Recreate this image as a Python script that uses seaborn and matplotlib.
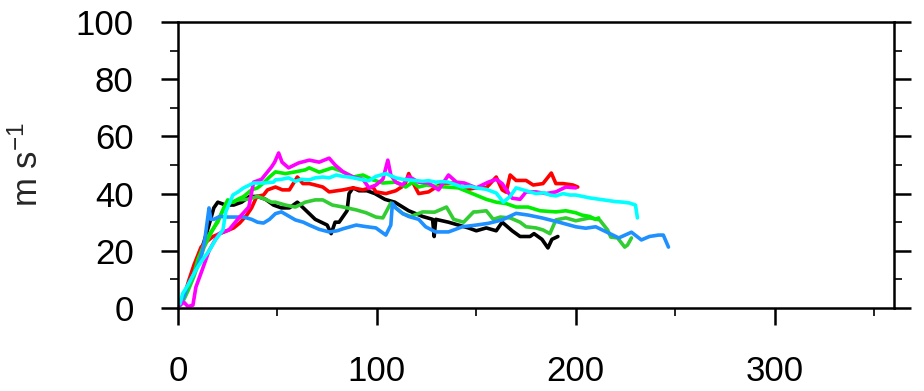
import numpy as np
import pandas as pd
import matplotlib
matplotlib.use("Agg")
import matplotlib.pyplot as plt
import seaborn as sns
from matplotlib.ticker import MultipleLocator

# ---------------- data ----------------
t_black = [1,4,7,10,13,16,18,20,24,28,32,36,40,44,48,52,56,60,63,66,69,72,75,77,79,81,83,85,86,88,91,95,99,104,109,116,123,128,128.8,129.6,136,141,146,150,155,160,163,168,172,177,179,183,186,188,191]
v_black = [2,6,11,17,23,30,35,37,36,36,37,39,39,38,36,35,35,37,35,33,31,30,29,26,30,30,32,34,40,42,41,41,40,38,37,34,32,31,25,31,30,29,28,27,28,27,30,27,25,25,26,24,21,24,25]

t_red = [1,3,5.5,8,11.6,14,17.6,21,24.6,28,31,34.6,37,39.6,43,45,49,52.5,56,60,62.8,66,69,72.8,76,80,83,88,93,98,99.5,104.5,109.5,114,116,118,121,126,133,140,144,150,155,160,163,165,167,170,175,178.6,183.5,187.7,190,193.6,198.6,201]
v_red = [1,4,9.8,15,21.3,23,25,26,27,28,29.7,32.5,35,39,39.5,41.3,42.3,41.3,41.3,45.8,43.5,43.5,43,42.3,40.6,41,41.3,42,41.3,42.3,40.6,40,41,43,47,44,40,40.6,43.7,43.7,41.3,42,42,45.8,41.3,40.5,46.5,44.6,44.6,43,43.5,47.2,43.5,43.5,43,42.3]

t_lime = [1,3,5,8,10,13,15,18,21,24,27,30,35,40,44,47,49,54,59,64,69,72.8,77.6,83,89.6,94.6,99.5,103,107,109.5,113,117,123,129,135,138.6,143.6,148.6,150,155,158.5,162,167,172,175,180,183.5,187,190,195,200,207,212,216,217.6,221,224.6,226,228]
v_lime = [1,3,6,11,15,21,24,28,32,36,37,37.8,38,39,38,37,37,36,35.3,37,37.8,37.8,36,35.3,34.3,33.3,31.8,31.5,36.7,35,33,32,33.6,33.5,35.3,31,30,33.6,33.6,34,31,31.8,31.5,30,28.4,28,27.3,26,30.8,31.5,30.5,31.5,30.8,27.3,24.8,24.5,21.3,22,24.5]

t_green = [1,3,5,8,10,13,15,18,20,23,25,28,30,33,37,40,43,46,49,54,59,64,66,71,77.6,83,88,93,98,103,109.5,114.5,118,121,125,130,135,141,148,155,160,165,170,176,182,190,195,200,203,207,210,211.5]
v_green = [1,4,7,12,17,22,25,28,30,35,37.8,37,38,39,41.3,42,43.7,45.8,47.6,47,47.6,48.3,49,47.5,49,47.6,45.8,46.5,44.8,43.7,44,42.3,44,42.3,43,42.5,42.3,42,40,38,37,36.5,35.3,35.3,34,33.6,34,33.3,32.5,32,31,31.5]

t_blue = [1,3,5,8,10,12,13.5,15.6,16.5,18,21,25,29,33,37,40,43,46,49,52,56,59,63,66,71,76,80,83,89.6,94,99.5,104.5,107,107.8,109.5,113,116,121,124.5,129.5,136,143,150,156,163,170,176,183,191.6,200,205,210,216.6,221.6,228,233,237,241.6,244,246.6]
v_blue = [1,4,8,12,15,19,24,35,31,31,32,31.8,31.8,31.8,31,30,29.7,31,33,33.6,32,30.8,30,29,27.5,26.6,27,27.7,29,28.5,28,25.5,29,36.6,35,33,32,31,28.4,26.6,26.6,28.4,29,29.6,30.8,33.1,32.5,31.5,30,28.4,27.9,28.4,26.2,24.5,26.5,23.8,25,25.5,25.5,21.3]

t_magenta = [1,3,5,7.5,9,12,15.6,18,20.6,25.6,30.6,35.6,38,42,47,48.6,50.6,52.3,55.6,60.6,66,71,76,79,83,88,93,96,99.5,103,105.5,107,109.5,113,116,121,126,131,136,140,144,150,156,160,163,168,172,175,180,185,190,195,200]
v_magenta = [1,2,0.5,1,7.3,13,20,23,26,27.3,31.5,35.3,44,45,49.3,51,54.2,51,49,50.7,51.7,51,52.4,50,47.6,45.8,45,42,43,45,51.7,46.5,44,43,46,44,43.7,41.3,46.5,44,43.7,42,44,45,43.5,38.4,38,40.6,40.6,40,40.6,42.3,42]

t_cyan = [1,2.3,5,9,12,15.6,19,22.6,24,27.6,30,33,38,43,48,49,52,55.6,59,62,66,69,72.8,76,79.6,83,86,89.6,93,96,99.5,104.5,109.5,113,116,120,123,126,129.6,133,136,140,143,147,150,155,160,163.6,167,170,175,180,184,187,190,193.6,197,200,207,214,220,224,227,230,231]
v_cyan = [1.5,5,8,13.3,16.5,20,24,27.3,33.6,39.5,40.5,42,43.7,43.7,44,44.8,45,45.5,44.3,45,44.8,45.5,45.8,45.5,46.5,46,45.8,45.3,44.8,44.5,46,47,45.5,45,44.8,44.5,44.3,44.5,44,44.2,44,43,42.3,42.5,42,41.5,40.2,37,39,42,41,40,40.3,39.5,39.2,40,39.5,39.5,38.5,37.8,37.2,37,36.7,36,31.5]

runs = ["black", "red", "limegreen", "green", "blue", "magenta", "cyan"]
colors = ["#000000", "#ff0000", "#32cd32", "#00ee00", "#1e90ff", "#ff00ff", "#00ffff"]
series_t = [t_black, t_red, t_lime, t_green, t_blue, t_magenta, t_cyan]
series_v = [v_black, v_red, v_lime, v_green, v_blue, v_magenta, v_cyan]

xticks = [0, 100, 200, 300]
yticks = [0, 20, 40, 60, 80, 100]

# ---------------- plotting ----------------
sns.set_style("white")
plt.rcParams['font.family'] = ['Liberation Sans', 'DejaVu Sans']
plt.rcParams['mathtext.default'] = 'regular'

fig = plt.figure(figsize=(9.24, 3.91), dpi=100)
ax = fig.add_axes([178/924, 1-308/391, (894-178)/924, (308-22)/391])

frames = []
for name, tt, vv in zip(runs, series_t, series_v):
    frames.append(pd.DataFrame({"t": tt, "v": vv, "run": name}))
df = pd.concat(frames, ignore_index=True)

sns.lineplot(data=df, x="t", y="v", hue="run", hue_order=runs,
             palette=dict(zip(runs, colors)), estimator=None, sort=False,
             legend=False, linewidth=2.6, ax=ax)

ax.set_xlim(0, 360)
ax.set_ylim(0, 100)
ax.set_xticks(xticks)
ax.set_yticks(yticks)
ax.set_xticklabels([str(v) for v in xticks])
ax.set_yticklabels([str(v) for v in yticks])
ax.xaxis.set_minor_locator(MultipleLocator(50))
ax.yaxis.set_minor_locator(MultipleLocator(10))
ax.set_xlabel("")
ax.set_ylabel("m s$^{-1}$", fontsize=25, labelpad=22)

for s in ax.spines.values():
    s.set_linewidth(1.8)
    s.set_color("black")

ax.tick_params(axis="both", which="major", direction="out", length=12,
               width=1.8, labelsize=25, colors="black")
ax.tick_params(axis="both", which="minor", direction="out", length=6,
               width=1.2, colors="black")
ax.tick_params(axis="y", which="both", left=True, right=True,
               labelleft=True, labelright=False)
ax.tick_params(axis="x", which="both", bottom=True, top=False)
ax.tick_params(axis="y", which="major", pad=20)
ax.tick_params(axis="x", which="major", pad=22)

fig.savefig("out.png", dpi=100)
